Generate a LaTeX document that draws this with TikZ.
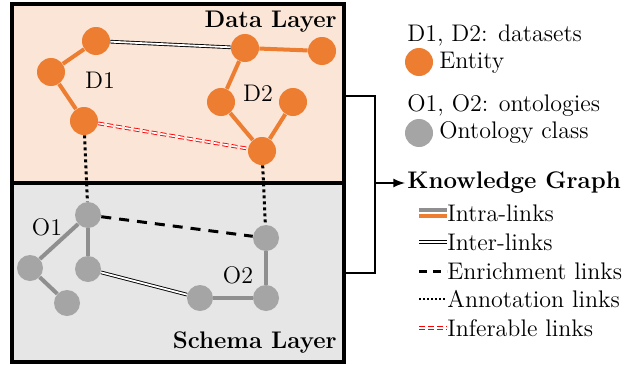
\documentclass[tikz,border=0pt]{standalone}
\usepackage{xcolor}
\usepackage{tikz}
\tikzset{>=latex}
\usetikzlibrary{backgrounds, arrows.meta}

\definecolor{entityorange}{HTML}{ED7D31}
\definecolor{classgray}{HTML}{A5A5A5}
\definecolor{edgegray}{HTML}{8F8F8F}
\definecolor{datafill}{HTML}{FBE5D6}
\definecolor{schemafill}{HTML}{E7E6E6}

\tikzset{
    entity/.style={circle, fill=entityorange, minimum size=14pt, inner sep=0pt},
    ontoclass/.style={circle, fill=classgray, minimum size=13pt, inner sep=0pt},
    intra/.style={line width=2pt},
    interlink/.style={draw=black, double=white, line width=0.45pt, double distance=0.9pt},
    enrich/.style={line width=1.5pt, dash pattern=on 5pt off 4pt},
    annot/.style={line width=1.5pt, dash pattern=on 1.5pt off 1.5pt},
    inferable/.style={draw=red, double=white, line width=0.45pt, double distance=0.9pt, dash pattern=on 3pt off 1.5pt},
    lbl/.style={font=\fontsize{12}{14}\selectfont, inner sep=1pt},
    boldlbl/.style={font=\fontsize{12}{14}\selectfont\bfseries, inner sep=1pt},
}

\begin{document}
\begin{tikzpicture}[x=0.5pt, y=-0.5pt]
    \useasboundingbox (0, 0) rectangle (636, 364);

    % Layers
    \begin{scope}[on background layer]
        \draw[line width=1.6pt, fill=datafill] (12, 4) rectangle (344, 183);
        \draw[line width=1.6pt, fill=schemafill] (12, 183) rectangle (344, 362);
    \end{scope}
    \node[boldlbl, anchor=east] (datalayer) at (339, 22) {Data Layer};
    \node[boldlbl, anchor=east] (schemalayer) at (339, 343) {Schema Layer};

    % Entities
    \foreach \n/\x/\y in {e1/96/41, e2/51/72, e3/84/121, e4/245/48, e5/322/51, e6/221/102, e7/293/102, e8/262/151}{
            \node[entity] (\n) at (\x, \y) {};
        }
    \node[lbl] (dsone) at (100, 80) {D1};
    \node[lbl] (dstwo) at (258, 93) {D2};

    % Ontology classes
    \foreach \n/\x/\y in {c1/88/215, c2/30/268, c3/67/303, c4/88/269, c5/266/238, c6/266/298, c7/200/298}{
            \node[ontoclass] (\n) at (\x, \y) {};
        }
    \node[lbl] (ontone) at (47, 227) {O1};
    \node[lbl] (onttwo) at (238, 275) {O2};

    % Links
    \begin{scope}[on background layer]
        \foreach \a/\b in {e1/e2, e2/e3, e4/e5, e4/e6, e6/e8, e8/e7}{
                \draw[intra, entityorange] (\a) -- (\b);
            }
        \foreach \a/\b in {c1/c2, c2/c3, c1/c4, c5/c6, c6/c7}{
                \draw[intra, edgegray] (\a) -- (\b);
            }
        \draw[interlink] (e1) -- (e4);
        \draw[interlink] (c4) -- (c7);
        \draw[inferable] (e3) -- (e8);
        \draw[enrich] (c1) -- (c5);
        \draw[annot] (e3) -- (c1);
        \draw[annot] (e8) -- (c5);
    \end{scope}

    % Bracket to the knowledge graph
    \node[boldlbl, anchor=west] (kg) at (405, 183) {Knowledge Graph};
    \draw[line width=1pt] (344, 96) -- (375, 96) -- (375, 273) -- (344, 273);
    \coordinate (kgfrom) at (375, 183);
    \draw[->, line width=1pt] (kgfrom) -- (kg.west);

    % Legend
    \node[lbl, anchor=west] (dsets) at (405, 35) {D1, D2: datasets};
    \node[entity] (lgentity) at (419, 62) {};
    \node[lbl, anchor=west] (entitytxt) at (437, 63) {Entity};
    \node[lbl, anchor=west] (onts) at (405, 106) {O1, O2: ontologies};
    \node[ontoclass, minimum size=14pt] (lgclass) at (419, 133) {};
    \node[lbl, anchor=west] (classtxt) at (437, 133) {Ontology class};

    \foreach \n/\y/\t in {intratxt/213/Intra-links, intertxt/242/Inter-links, enrichtxt/271/Enrichment links, annottxt/299/Annotation links, infertxt/328/Inferable links}{
            \node[lbl, anchor=west, inner sep=0pt] (\n) at (447, \y) {\t};
            \coordinate (\n-s) at (419, \y);
        }
    \draw[intra, edgegray] ([yshift=1.3pt]intratxt-s) -- ([yshift=1.3pt]intratxt.west);
    \draw[intra, entityorange] ([yshift=-1.3pt]intratxt-s) -- ([yshift=-1.3pt]intratxt.west);
    \draw[interlink] (intertxt-s) -- (intertxt.west);
    \draw[enrich, dash pattern=on 4pt off 3pt] (enrichtxt-s) -- (enrichtxt.west);
    \draw[annot, line width=1pt, dash pattern=on 1pt off 1pt] (annottxt-s) -- (annottxt.west);
    \draw[inferable] (infertxt-s) -- (infertxt.west);

\end{tikzpicture}
\end{document}
